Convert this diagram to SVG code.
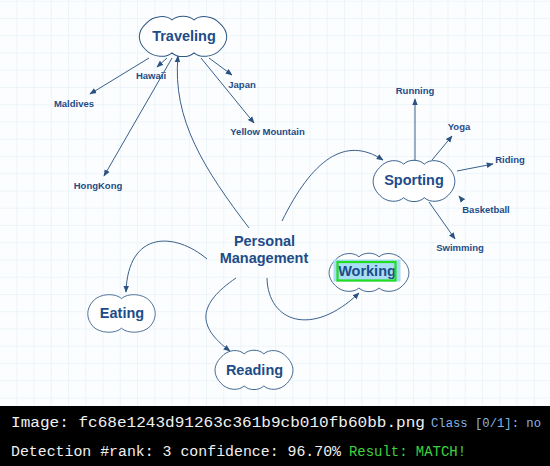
<svg xmlns="http://www.w3.org/2000/svg" width="550" height="466" viewBox="0 0 550 466">
  <style>
    .cloud { fill: #ffffff; stroke: #2f5886; stroke-width: 1.1; vector-effect: non-scaling-stroke; }
    .big { font-family: "Liberation Sans", Arial, sans-serif; font-weight: bold; font-size: 14.5px; fill: #1d4c88; text-anchor: middle; }
    .small { font-family: "Liberation Sans", Arial, sans-serif; font-weight: bold; font-size: 9.5px; fill: #1d4c88; text-anchor: middle; }
    .edge { fill: none; stroke: #3a5f8d; stroke-width: 1; marker-end: url(#arrow); }
    .term { font-family: "Liberation Mono", "DejaVu Sans Mono", monospace; font-size: 14px; fill: #f0f0f0; }
  </style>
  <defs>
    <pattern id="grid" width="17.25" height="17.25" patternUnits="userSpaceOnUse" x="0" y="1.7">
      <path d="M 17.25 0 V 17.25 M 0 17.25 H 17.25" fill="none" stroke="#e0edf3" stroke-width="1"/>
    </pattern>
    <marker id="arrow" viewBox="0 0 10 10" refX="9" refY="5" markerWidth="7" markerHeight="7" markerUnits="userSpaceOnUse" orient="auto">
      <path d="M 0 1 L 10 5 L 0 9 Z" fill="#2b5282"/>
    </marker>
    <!-- cloud outlines in a 100 x 50 box: three bumps or two bumps along top and bottom -->
    <path id="cloud3" d="M 10 10 C 18 0, 32 0, 38 6 C 44 0, 56 0, 62 6 C 68 0, 82 0, 90 10 C 100 20, 100 32, 90 42 C 82 51, 68 51, 62 45 C 56 51, 44 51, 38 45 C 32 51, 18 51, 10 42 C 0 32, 0 20, 10 10 Z"/>
    <path id="cloud2" d="M 10 10 C 20 0, 42 0, 50 7 C 58 0, 80 0, 90 10 C 100 20, 100 32, 90 42 C 80 51, 58 51, 50 44 C 42 51, 20 51, 10 42 C 0 32, 0 20, 10 10 Z"/>
  </defs>

  <!-- canvas background with grid -->
  <rect x="0" y="0" width="550" height="406" fill="#fbfdfe"/>
  <rect x="0" y="0" width="550" height="406" fill="url(#grid)"/>

  <!-- connectors -->
  <g id="connectors">
    <line class="edge" x1="149" y1="58" x2="90" y2="94"/>
    <line class="edge" x1="167" y1="58" x2="157" y2="67"/>
    <line class="edge" x1="172" y1="58" x2="104" y2="176"/>
    <line class="edge" x1="209" y1="58" x2="232" y2="75"/>
    <line class="edge" x1="201" y1="58" x2="254" y2="123"/>
    <path class="edge" d="M 249 228 C 205 170, 172 120, 178 56"/>
    <path class="edge" d="M 282 221 C 312 160, 345 135, 383 160"/>
    <line class="edge" x1="415" y1="160" x2="415" y2="99"/>
    <line class="edge" x1="432" y1="160" x2="452" y2="136"/>
    <line class="edge" x1="457" y1="171" x2="493" y2="164"/>
    <line class="edge" x1="463" y1="201" x2="459" y2="196"/>
    <line class="edge" x1="429" y1="202" x2="455" y2="239"/>
    <path class="edge" d="M 207 259 C 175 232, 128 230, 126 292"/>
    <path class="edge" d="M 236 278 C 198 304, 196 326, 230 351"/>
    <path class="edge" d="M 267 278 C 268 322, 312 338, 359 293"/>
  </g>

  <!-- nodes -->
  <g id="traveling">
    <use href="#cloud3" class="cloud" transform="translate(137 15) scale(0.92 0.84)"/>
    <text class="big" x="184" y="41">Traveling</text>
  </g>
  <g id="hawaii"><text class="small" x="151" y="78.5">Hawaii</text></g>
  <g id="maldives"><text class="small" x="74" y="106.5">Maldives</text></g>
  <g id="japan"><text class="small" x="242" y="87.5">Japan</text></g>
  <g id="yellow-mountain"><text class="small" x="267.5" y="134.5">Yellow Mountain</text></g>
  <g id="hongkong"><text class="small" x="98" y="188.5">HongKong</text></g>

  <g id="sporting">
    <use href="#cloud3" class="cloud" transform="translate(371 159) scale(0.86 0.86)"/>
    <text class="big" x="414" y="185">Sporting</text>
  </g>
  <g id="running"><text class="small" x="415" y="93.5">Running</text></g>
  <g id="yoga"><text class="small" x="459" y="129.5">Yoga</text></g>
  <g id="riding"><text class="small" x="510" y="162.5">Riding</text></g>
  <g id="basketball"><text class="small" x="486" y="212.5">Basketball</text></g>
  <g id="swimming"><text class="small" x="460" y="250.5">Swimming</text></g>

  <g id="personal-management">
    <text class="big" x="264.5" y="246">Personal</text>
    <text class="big" x="264" y="263">Management</text>
  </g>

  <g id="working">
    <use href="#cloud3" class="cloud" transform="translate(327 252) scale(0.84 0.8)"/>
    <rect x="333.5" y="259.5" width="67" height="22" fill="#a9dcf5"/>
    <text class="big" x="367" y="276">Working</text>
    <rect x="337.5" y="262" width="58" height="18.5" fill="none" stroke="#22dd22" stroke-width="2.2"/>
  </g>

  <g id="eating">
    <use href="#cloud2" class="cloud" transform="translate(86 293) scale(0.71 0.8)"/>
    <text class="big" x="122" y="318">Eating</text>
  </g>

  <g id="reading">
    <use href="#cloud3" class="cloud" transform="translate(213 349) scale(0.82 0.82)"/>
    <text class="big" x="254.5" y="375">Reading</text>
  </g>

  <!-- status bar -->
  <rect x="0" y="406" width="550" height="60" fill="#000000"/>
  <text class="term" x="11" y="427" textLength="414" lengthAdjust="spacingAndGlyphs">Image: fc68e1243d91263c361b9cb010fb60bb.png</text>
  <text class="term" x="431" y="427" textLength="110" lengthAdjust="spacingAndGlyphs" style="fill:#86b4e4;font-size:12.5px">Class [0/1]: no</text>
  <text class="term" x="11" y="456" textLength="330" lengthAdjust="spacingAndGlyphs">Detection #rank: 3 confidence: 96.70%</text>
  <text class="term" x="349" y="456" textLength="117" lengthAdjust="spacingAndGlyphs" style="fill:#3ed33e">Result: MATCH!</text>
</svg>
